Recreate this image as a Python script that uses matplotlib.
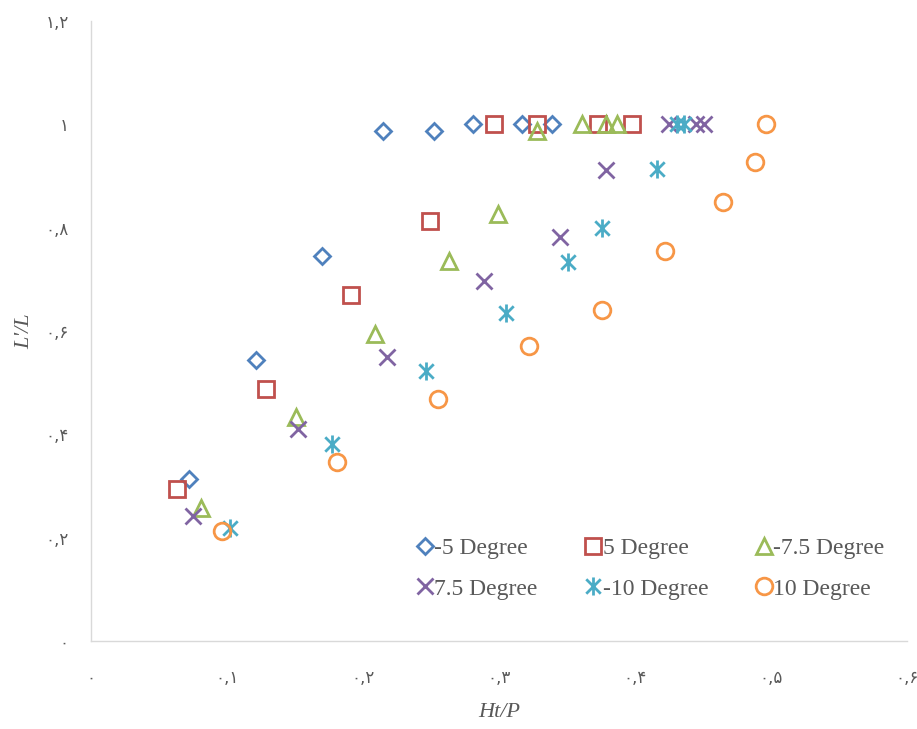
import matplotlib
matplotlib.use("Agg")
import matplotlib.pyplot as plt
from matplotlib.path import Path
import numpy as np

# ---- data ----
series_names = ["-5 Degree", "5 Degree", "-7.5 Degree", "7.5 Degree", "-10 Degree", "10 Degree"]

x_m5 = [0.072, 0.121, 0.170, 0.215, 0.252, 0.281, 0.317, 0.339]
y_m5 = [0.314, 0.544, 0.745, 0.987, 0.987, 1.0, 1.0, 1.0]

x_p5 = [0.063, 0.129, 0.191, 0.249, 0.296, 0.328, 0.373, 0.398]
y_p5 = [0.294, 0.488, 0.670, 0.813, 1.0, 1.0, 1.0, 1.0]

x_m75 = [0.081, 0.151, 0.209, 0.263, 0.299, 0.328, 0.361, 0.379, 0.387]
y_m75 = [0.257, 0.434, 0.594, 0.735, 0.826, 0.987, 1.0, 1.0, 1.0]

x_p75 = [0.075, 0.152, 0.218, 0.289, 0.345, 0.379, 0.425, 0.445, 0.451]
y_p75 = [0.242, 0.410, 0.550, 0.697, 0.782, 0.912, 1.0, 1.0, 1.0]

x_m10 = [0.102, 0.177, 0.246, 0.305, 0.351, 0.376, 0.416, 0.431, 0.436]
y_m10 = [0.219, 0.381, 0.523, 0.635, 0.734, 0.799, 0.913, 1.0, 1.0]

x_p10 = [0.096, 0.181, 0.255, 0.322, 0.376, 0.422, 0.465, 0.488, 0.496]
y_p10 = [0.213, 0.346, 0.468, 0.571, 0.641, 0.755, 0.850, 0.927, 1.0]

x_ticks = [0, 0.1, 0.2, 0.3, 0.4, 0.5, 0.6]
x_tick_labels = ["۰", "۰,۱", "۰,۲", "۰,۳", "۰,۴", "۰,۵", "۰,۶"]
y_ticks = [0, 0.2, 0.4, 0.6, 0.8, 1.0, 1.2]
y_tick_labels = ["۰", "۰,۲", "۰,۴", "۰,۶", "۰,۸", "۱", "۱,۲"]

# ---- style ----
colors = ["#4F81BD", "#C0504D", "#9BBB59", "#8064A2", "#4BACC6", "#F79646"]

star = Path([(-1, -1), (1, 1), (-1, 1), (1, -1), (0, -1.25), (0, 1.25)],
            [Path.MOVETO, Path.LINETO, Path.MOVETO, Path.LINETO, Path.MOVETO, Path.LINETO])

markers = ["D", "s", "^", "x", star, "o"]
msizes = [8.5, 12, 11.5, 11, 13, 12]

fig = plt.figure(figsize=(9.17, 7.29), dpi=100)
ax = fig.add_axes([91 / 917, 1 - 641 / 729, (907 - 91) / 917, (641 - 21) / 729])

data = [(x_m5, y_m5), (x_p5, y_p5), (x_m75, y_m75), (x_p75, y_p75), (x_m10, y_m10), (x_p10, y_p10)]
handles = []
for (xs, ys), name, c, m, ms in zip(data, series_names, colors, markers, msizes):
    h, = ax.plot(xs, ys, linestyle="none", marker=m, markersize=ms, markerfacecolor="none",
                 markeredgecolor=c, markeredgewidth=2.0, label=name)
    handles.append(h)

ax.set_xlim(0, 0.6)
ax.set_ylim(0, 1.2)

for s in ["top", "right"]:
    ax.spines[s].set_visible(False)
for s in ["left", "bottom"]:
    ax.spines[s].set_color("#D9D9D9")
    ax.spines[s].set_linewidth(1.0)

tick_font = dict(family=["DejaVu Sans"], size=12, color="#595959")
ax.set_xticks(x_ticks)
ax.set_xticklabels(x_tick_labels, **tick_font)
ax.set_yticks(y_ticks)
ax.set_yticklabels(y_tick_labels, **tick_font)
ax.tick_params(axis="x", length=0, pad=20)
ax.tick_params(axis="y", length=0, pad=16)

ax.set_xlabel("Ht/P", family=["Liberation Serif"], style="italic", size=16, color="#595959", labelpad=12)
ax.set_ylabel("L'/L", family=["Liberation Serif"], style="italic", size=16, color="#595959", labelpad=8)

# row-major order for a 3-column legend
order = [0, 3, 1, 4, 2, 5]
leg = ax.legend([handles[i] for i in order], [series_names[i] for i in order],
                ncol=3, loc="upper left", bbox_to_anchor=(0.4007, 0.1666), frameon=False,
                prop=dict(family="Liberation Serif", size=17), handlelength=0.6,
                handletextpad=0.1, columnspacing=2.05, labelspacing=0.8,
                borderaxespad=0.0, borderpad=0.0)
for t in leg.get_texts():
    t.set_color("#595959")

fig.savefig("out.png", dpi=100)
